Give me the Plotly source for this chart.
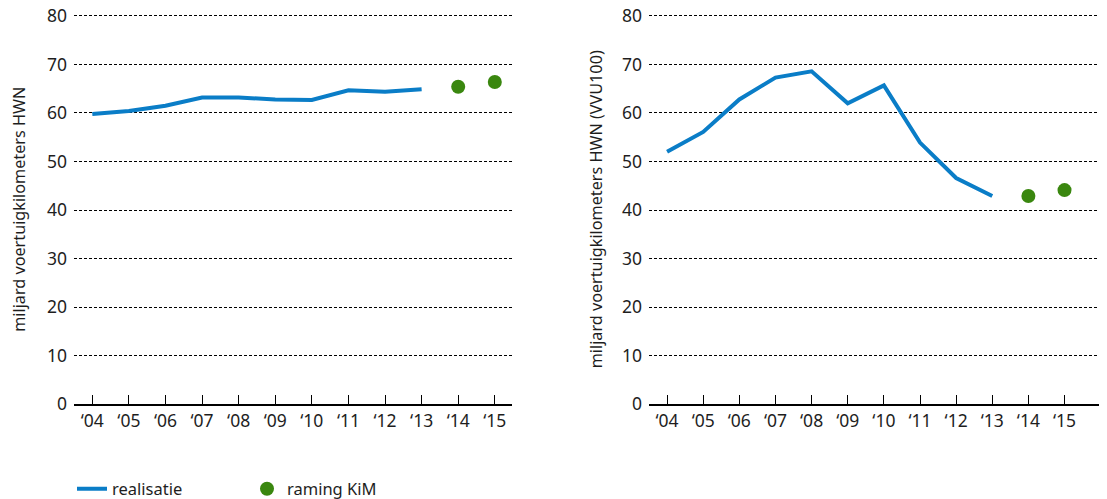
import plotly.graph_objects as go

years_real = [2004, 2005, 2006, 2007, 2008, 2009, 2010, 2011, 2012, 2013]
years_fc = [2014, 2015]
tick_years = list(range(2004, 2016))
tick_labels = ["\u201804", "\u201805", "\u201806", "\u201807", "\u201808", "\u201809",
               "\u201810", "\u201811", "\u201812", "\u201813", "\u201814", "\u201815"]

left_real = [59.8, 60.4, 61.5, 63.2, 63.2, 62.8, 62.7, 64.7, 64.4, 64.9]
left_fc = [65.4, 66.4]
right_real = [52.0, 56.1, 62.8, 67.3, 68.6, 62.0, 65.7, 53.9, 46.6, 42.9]
right_fc = [42.9, 44.1]

y_title_left = "miljard voertuigkilometers HWN"
y_title_right = "miljard voertuigkilometers HWN (VVU100)"

BLUE = "#0a7dc7"
GREEN = "#3a870f"
TXT = "#1e1e1e"
FONT = "Noto Sans"

fig = go.Figure()
fig.add_trace(go.Scatter(x=years_real, y=left_real, mode="lines", name="realisatie",
                         line=dict(color=BLUE, width=4), xaxis="x", yaxis="y"))
fig.add_trace(go.Scatter(x=years_fc, y=left_fc, mode="markers", name="raming KiM",
                         marker=dict(color=GREEN, size=14), xaxis="x", yaxis="y"))
fig.add_trace(go.Scatter(x=years_real, y=right_real, mode="lines", name="realisatie",
                         line=dict(color=BLUE, width=4), xaxis="x2", yaxis="y2", showlegend=False))
fig.add_trace(go.Scatter(x=years_fc, y=right_fc, mode="markers", name="raming KiM",
                         marker=dict(color=GREEN, size=14), xaxis="x2", yaxis="y2", showlegend=False))

# page body has an 8px margin; figure coordinates = screen coordinates - 8
OFF = 8
W, H = 1107 - OFF, 499 - OFF
YMAX = 80.3
ppu = (404 - 16) / 80.0
bot_px = 404 - OFF
top_px = 16 - OFF - (YMAX - 80) * ppu
ydom = [(H - bot_px) / H, (H - top_px) / H]

def xax(dom, rng, anchor):
    return dict(domain=dom, range=rng, anchor=anchor, tickvals=tick_years, ticktext=tick_labels,
                showgrid=False, zeroline=False, showline=True, linecolor="black", linewidth=1.5,
                ticks="inside", ticklen=9, tickwidth=1.2, tickcolor="black", automargin=False,
                ticklabeloverflow="allow",
                tickfont=dict(size=17.5, color=TXT, family=FONT), fixedrange=True)

def yax(anchor, title, standoff):
    return dict(domain=ydom, range=[0, YMAX], anchor=anchor, tickvals=list(range(0, 81, 10)),
                showgrid=True, gridcolor="black", gridwidth=1, griddash="3px,2px",
                zeroline=False, showline=False, ticks="", ticklabelstandoff=6, automargin=False,
                ticklabeloverflow="allow",
                tickfont=dict(size=17.5, color=TXT, family=FONT), fixedrange=True,
                title=dict(text=title, font=dict(size=16.2, color=TXT, family=FONT), standoff=standoff))

fig.update_layout(
    width=W, height=H, margin=dict(l=0, r=0, t=0, b=0, autoexpand=False),
    paper_bgcolor="white", plot_bgcolor="white",
    font=dict(family=FONT, color=TXT),
    xaxis=xax([(74 - OFF) / W, (512 - OFF) / W], [2003.5, 2015.47], "y"),
    yaxis=yax("x", y_title_left, 18),
    xaxis2=xax([(649 - OFF) / W, (1105 - OFF) / W], [2003.5, 2016.12], "y2"),
    yaxis2=yax("x2", y_title_right, 15),
    legend=dict(orientation="h", x=(72 - OFF) / W, y=(H - (489 - OFF)) / H, xanchor="left",
                yanchor="middle",
                font=dict(size=16.5, color=TXT, family=FONT), entrywidth=130, entrywidthmode="pixels",
                bgcolor="rgba(0,0,0,0)"),
    showlegend=True,
)

fig.write_html("out.html")
